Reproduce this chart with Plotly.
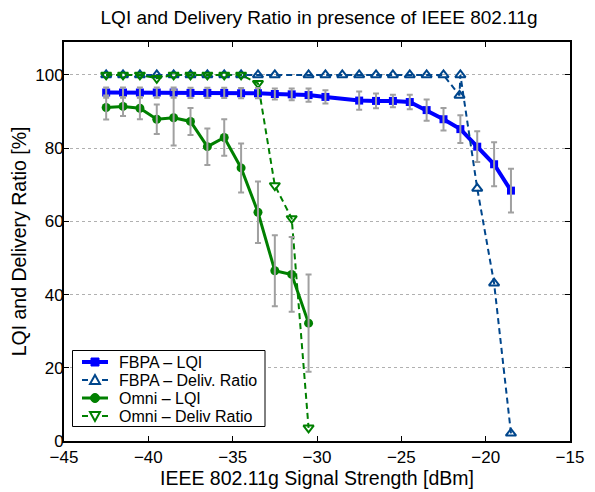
import plotly.graph_objects as go

# ---------------- data ----------------
fbpa_lqi_x = [-42.5, -41.5, -40.5, -39.5, -38.5, -37.5, -36.5, -35.5, -34.5, -33.5,
              -32.5, -31.5, -30.5, -29.5, -27.5, -26.5, -25.5, -24.5, -23.5, -22.5,
              -21.5, -20.5, -19.5, -18.5]
fbpa_lqi_y = [95.2, 95.2, 95.2, 95.2, 95.2, 95.1, 95.1, 95.1, 95.0, 95.0,
              94.8, 94.7, 94.5, 94.0, 93.0, 92.9, 92.9, 92.6, 90.4, 87.9,
              85.2, 80.4, 75.6, 68.4]
fbpa_lqi_err = [1.4, 1.4, 1.4, 1.4, 1.4, 1.4, 1.4, 1.4, 1.4, 1.4,
                1.5, 1.6, 1.8, 1.8, 2.5, 2.0, 1.7, 2.0, 2.9, 3.1,
                3.8, 4.2, 6.0, 6.0]

fbpa_dr_x = [-42.5, -41.5, -40.5, -39.5, -38.5, -37.5, -36.5, -35.5, -34.5, -33.5,
             -32.5, -30.5, -29.5, -28.5, -27.5, -26.5, -25.5, -24.5, -23.5, -22.5,
             -21.55, -21.5, -20.5, -19.5, -18.5]
fbpa_dr_y = [100, 100, 100, 100, 100, 100, 100, 100, 100, 100,
             100, 100, 100, 100, 100, 100, 100, 100, 100, 100,
             94.4, 100, 69.0, 43.1, 2.1]

omni_lqi_x = [-42.5, -41.5, -40.5, -39.5, -38.5, -37.5, -36.5, -35.5, -34.5,
              -33.5, -32.5, -31.5, -30.5]
omni_lqi_y = [91.1, 91.4, 90.9, 87.9, 88.3, 87.3, 80.4, 82.9, 74.6,
              62.5, 46.5, 45.5, 32.2]
omni_lqi_err = [3.3, 2.6, 3.0, 4.0, 7.6, 3.7, 5.0, 5.0, 6.7,
                8.4, 9.7, 10.2, 13.3]

omni_dr_x = [-42.5, -41.5, -40.5, -39.5, -38.5, -37.5, -36.5, -35.5, -34.5,
             -33.5, -32.5, -31.5, -30.5]
omni_dr_y = [100, 100, 100, 99.1, 100, 100, 100, 100, 100,
             97.7, 69.8, 60.8, 3.6]

series_names = ["FBPA – LQI", "FBPA – Deliv. Ratio", "Omni – LQI", "Omni – Deliv Ratio"]
x_ticks = [-45, -40, -35, -30, -25, -20, -15]
y_ticks = [0, 20, 40, 60, 80, 100]

# ---------------- styles ----------------
BLUE = "#0000ff"
DBLUE = "#00468c"
GREEN = "#008000"
GREY = "#a0a0a0"
FONT = "Liberation Sans, Arial, Helvetica, sans-serif"
DASH = "6px,4px"

# page offset of the plot div (browser body margin)
OFF = 8
W, H = 595, 492
# plot area in screenshot pixels
PL, PR, PT, PB = 64, 570, 42, 441


def px(x):
    return (x - PL) / (PR - PL)


def py(y):
    return (PB - y) / (PB - PT)


fig = go.Figure()

fig.add_trace(go.Scatter(
    x=fbpa_lqi_x, y=fbpa_lqi_y, mode="lines+markers", name=series_names[0],
    line=dict(color=BLUE, width=4),
    marker=dict(symbol="square", size=8, color=BLUE),
))
fig.add_trace(go.Scatter(
    x=fbpa_dr_x, y=fbpa_dr_y, mode="lines+markers", name=series_names[1],
    line=dict(color=DBLUE, width=2, dash=DASH),
    marker=dict(symbol="triangle-up-open", size=9, color=DBLUE, line=dict(width=2)),
))
fig.add_trace(go.Scatter(
    x=omni_lqi_x, y=omni_lqi_y, mode="lines+markers", name=series_names[2],
    line=dict(color=GREEN, width=3),
    marker=dict(symbol="circle", size=9, color=GREEN),
))
fig.add_trace(go.Scatter(
    x=omni_dr_x, y=omni_dr_y, mode="lines+markers", name=series_names[3],
    line=dict(color=GREEN, width=2, dash=DASH),
    marker=dict(symbol="triangle-down-open", size=9, color=GREEN, line=dict(width=2)),
))

# error bars drawn on top
fig.add_trace(go.Scatter(
    x=fbpa_lqi_x, y=fbpa_lqi_y, mode="markers", showlegend=False, hoverinfo="skip",
    marker=dict(size=1, opacity=0),
    error_y=dict(type="data", array=fbpa_lqi_err, color=GREY, thickness=2, width=3),
))
fig.add_trace(go.Scatter(
    x=omni_lqi_x, y=omni_lqi_y, mode="markers", showlegend=False, hoverinfo="skip",
    marker=dict(size=1, opacity=0),
    error_y=dict(type="data", array=omni_lqi_err, color=GREY, thickness=2, width=3),
))

# ---------------- hand-drawn legend (MATLAB style) ----------------
shapes = []
annotations = []
LX0, LX1, LY0, LY1 = 72.5, 265, 350.5, 426.5
shapes.append(dict(type="rect", xref="paper", yref="paper",
                   x0=px(LX0), x1=px(LX1), y0=py(LY1), y1=py(LY0),
                   line=dict(color="black", width=1), fillcolor="white", layer="above"))
rows = [362, 380, 398, 416]
SX0, SX1, SMID, TX = 82, 108, 95, 117


def seg(x0, x1, y, color, width, dash="solid"):
    return dict(type="line", xref="paper", yref="paper",
                x0=px(x0), x1=px(x1), y0=py(y), y1=py(y),
                line=dict(color=color, width=width, dash=dash), layer="above")


def poly(points, color, fill):
    path = "M " + " L ".join(f"{px(a):.5f},{py(b):.5f}" for a, b in points) + " Z"
    return dict(type="path", xref="paper", yref="paper", path=path,
                line=dict(color=color, width=2), fillcolor=fill, layer="above")


# row 0 : FBPA LQI
y = rows[0]
shapes.append(seg(SX0, SX1, y, BLUE, 4))
shapes.append(dict(type="rect", xref="paper", yref="paper",
                   x0=px(SMID - 4), x1=px(SMID + 4), y0=py(y + 4), y1=py(y - 4),
                   line=dict(color=BLUE, width=1), fillcolor=BLUE, layer="above"))
# row 1 : FBPA deliv ratio
y = rows[1]
shapes.append(seg(SX0, SX0 + 6, y, DBLUE, 2))
shapes.append(seg(SX1 - 6, SX1, y, DBLUE, 2))
shapes.append(poly([(SMID, y - 5), (SMID - 5, y + 4), (SMID + 5, y + 4)], DBLUE, "rgba(0,0,0,0)"))
# row 2 : Omni LQI
y = rows[2]
shapes.append(seg(SX0, SX1, y, GREEN, 3))
shapes.append(dict(type="circle", xref="paper", yref="paper",
                   x0=px(SMID - 4.5), x1=px(SMID + 4.5), y0=py(y + 4.5), y1=py(y - 4.5),
                   line=dict(color=GREEN, width=1), fillcolor=GREEN, layer="above"))
# row 3 : Omni deliv ratio
y = rows[3]
shapes.append(seg(SX0, SX0 + 6, y, GREEN, 2))
shapes.append(seg(SX1 - 6, SX1, y, GREEN, 2))
shapes.append(poly([(SMID, y + 5), (SMID - 5, y - 4), (SMID + 5, y - 4)], GREEN, "rgba(0,0,0,0)"))

for name, yy in zip(series_names, rows):
    annotations.append(dict(text=name, xref="paper", yref="paper",
                            x=px(TX), y=py(yy), xanchor="left", yanchor="middle",
                            showarrow=False,
                            font=dict(size=16, color="black", family=FONT)))

axis_common = dict(
    showline=True, linecolor="black", linewidth=2, mirror="ticks",
    ticks="inside", ticklen=5, tickcolor="black", tickwidth=1,
    zeroline=False, automargin=False,
    tickfont=dict(size=17, color="black", family=FONT),
)

fig.update_layout(
    width=W, height=H,
    margin=dict(l=PL - OFF, r=W - (PR - OFF), t=PT - OFF, b=H - (PB - OFF), autoexpand=False),
    paper_bgcolor="white", plot_bgcolor="white",
    font=dict(family=FONT, color="black"),
    title=dict(text="LQI and Delivery Ratio in presence of IEEE 802.11g",
               x=(319 - OFF) / W, xanchor="center", y=1 - (17 - OFF) / H, yanchor="middle",
               font=dict(size=19, color="black", family=FONT)),
    xaxis=dict(range=[-45, -15], tickvals=x_ticks, showgrid=False,
               title=dict(text="IEEE 802.11g Signal Strength [dBm]", standoff=2,
                          font=dict(size=19.5, family=FONT)),
               **axis_common),
    yaxis=dict(range=[0, 109], tickvals=y_ticks, showgrid=True,
               gridcolor="#b0b0b0", griddash="dot", gridwidth=1,
               ticklabelstandoff=-5,
               title=dict(text="LQI and Delivery Ratio [%]", standoff=4,
                          font=dict(size=19.5, family=FONT)),
               **axis_common),
    shapes=shapes,
    annotations=annotations,
    showlegend=False,
)

fig.write_html("out.html")
